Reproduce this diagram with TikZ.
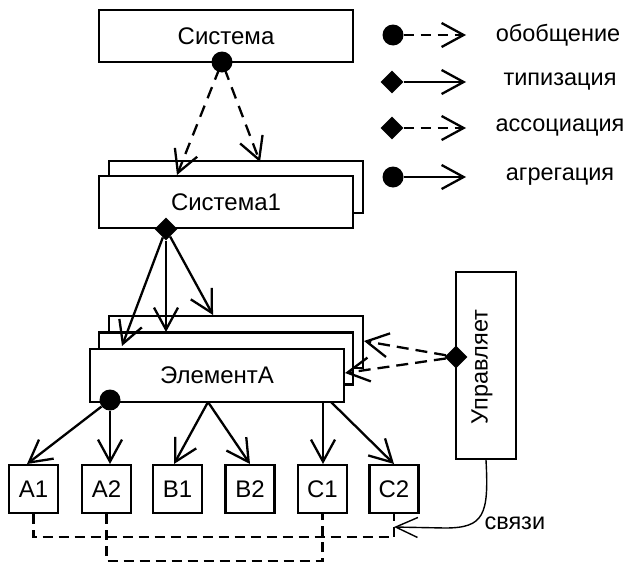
\documentclass[tikz,border=0pt]{standalone}
\usepackage{fontspec}
\setmainfont{Liberation Sans}
\usetikzlibrary{arrows.meta,shapes.geometric}
\begin{document}
\begin{tikzpicture}[x=1pt,y=-1pt,
  box/.style={draw, line width=2.3pt, fill=white, inner sep=0pt, font=\fontsize{24}{28}\selectfont},
  dotn/.style={circle, fill, inner sep=0pt, minimum size=21pt},
  dia/.style={diamond, fill, inner sep=0pt, minimum width=23pt, minimum height=23pt},
  arr/.style={line width=2.3pt, -{Straight Barb[length=22pt,width=24pt]}},
  darr/.style={arr, dash pattern=on 10pt off 7pt},
  dsh/.style={line width=2.3pt, dash pattern=on 10pt off 6pt},
  lbl/.style={font=\fontsize{23.5}{28}\selectfont}
]
\useasboundingbox (0,0) rectangle (628,562);

% top
\node[box, minimum width=254pt, minimum height=52pt] (sys) at (226,36) {Система};
\node[box, minimum width=254pt, minimum height=52pt] (sys1b) at (236,187) {};
\node[box, minimum width=254pt, minimum height=52pt] (sys1) at (226,202) {Система1};

% element stack
\node[box, minimum width=254pt, minimum height=52pt] (elb) at (236,342) {};
\node[box, minimum width=254pt, minimum height=52pt] (elm) at (226,358.5) {};
\node[box, minimum width=254pt, minimum height=53pt] (el) at (217,375.5) {ЭлементА};

% controller
\node[box, minimum width=60pt, minimum height=187pt] (upr) at (486,365.5) {};
\node[lbl, rotate=90] (uprt) at (482,367) {Управляет};

% small boxes
\foreach \n/\x/\t in {a1/33.5/A1, a2/106.5/A2, b1/177.5/B1, b2/250/B2, c1/322.5/C1, c2/394/C2}
  \node[box, minimum width=49pt, minimum height=48pt] (\n) at (\x,489) {\t};

% markers
\node[dotn] (sysdot) at (222,62) {};
\node[dia] (sys1dia) at (166,229) {};
\node[dotn] (eldot) at (110,400) {};
\node[dia] (uprdia) at (456,357) {};

% coordinates
\coordinate (t1) at (177,175);
\coordinate (t2) at (260,162);
\coordinate (u1) at (122,346);
\coordinate (u2) at (166,332);
\coordinate (u3) at (213,315);
\coordinate (e1) at (364,341);
\coordinate (e2) at (345,373);
\coordinate (ob) at (208,402);
\coordinate (oc1) at (323,402);
\coordinate (oc2) at (331,402);
\coordinate (ta1) at (27,464);
\coordinate (ta2) at (110,464);
\coordinate (tb1) at (174,464);
\coordinate (tb2) at (250,464);
\coordinate (tc1) at (323,464);
\coordinate (tc2) at (394,464);
\coordinate (sv) at (394,527);

% connectors
\draw[darr, shorten <=7pt, dash pattern=on 12pt off 8pt] (sysdot.center) -- (t1);
\draw[darr, shorten <=7pt, dash pattern=on 12pt off 8pt] (sysdot.center) -- (t2);
\draw[arr] (sys1dia) -- (u1);
\draw[arr] (sys1dia) -- (u2);
\draw[arr] (sys1dia) -- (u3);
\draw[darr, dash pattern=on 12pt off 7pt] (uprdia) -- (e1);
\draw[darr, dash pattern=on 12pt off 7pt] (uprdia) -- (e2);
\draw[arr] (eldot) -- (ta1);
\draw[arr] (eldot) -- (ta2);
\draw[arr] (ob) -- (tb1);
\draw[arr] (ob) -- (tb2);
\draw[arr] (oc1) -- (tc1);
\draw[arr] (oc2) -- (tc2);

\draw[dsh] (a1.south) -- ++(0,23) -| (c2.south);
\draw[dsh] (a2.south) -- ++(0,47) -| (c1.south);

\draw[line width=1.4pt, -{Straight Barb[length=22pt,width=20pt]}] (upr.south) .. controls (489,515) and (484,528) .. (445,528) -- (sv);
\node[lbl, anchor=west] (svl) at (481,523) {связи};

% legend
\node[dotn] (l1) at (393,35) {};
\node[dia] (l2) at (392,82) {};
\node[dia] (l3) at (392,128) {};
\node[dotn] (l4) at (393,177) {};
\coordinate (l1t) at (466,35);
\coordinate (l2t) at (466,82);
\coordinate (l3t) at (466,128);
\coordinate (l4t) at (466,177);
\draw[darr] (l1) -- (l1t);
\draw[arr] (l2) -- (l2t);
\draw[darr] (l3) -- (l3t);
\draw[arr] (l4) -- (l4t);
\node[lbl] (lt1) at (558,35) {обобщение};
\node[lbl] (lt2) at (560,82) {типизация};
\node[lbl] (lt3) at (560,128) {ассоциация};
\node[lbl] (lt4) at (560,177) {агрегация};
\end{tikzpicture}
\end{document}
